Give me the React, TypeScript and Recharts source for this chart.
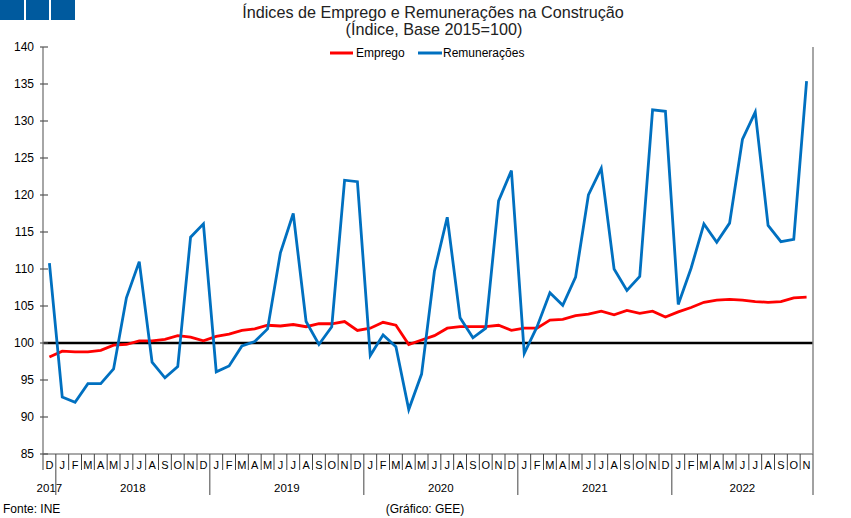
import React from 'react';
import { LineChart, Line, XAxis, YAxis, ReferenceLine } from 'recharts';

// dez 2017 .. nov 2022
const periods = [
  '2017-12',
  '2018-01', '2018-02', '2018-03', '2018-04', '2018-05', '2018-06', '2018-07', '2018-08', '2018-09', '2018-10', '2018-11', '2018-12',
  '2019-01', '2019-02', '2019-03', '2019-04', '2019-05', '2019-06', '2019-07', '2019-08', '2019-09', '2019-10', '2019-11', '2019-12',
  '2020-01', '2020-02', '2020-03', '2020-04', '2020-05', '2020-06', '2020-07', '2020-08', '2020-09', '2020-10', '2020-11', '2020-12',
  '2021-01', '2021-02', '2021-03', '2021-04', '2021-05', '2021-06', '2021-07', '2021-08', '2021-09', '2021-10', '2021-11', '2021-12',
  '2022-01', '2022-02', '2022-03', '2022-04', '2022-05', '2022-06', '2022-07', '2022-08', '2022-09', '2022-10', '2022-11',
];

const emprego = [
  98.1,
  98.9, 98.8, 98.8, 99.0, 99.7, 99.8, 100.3, 100.3, 100.5, 101.0, 100.8, 100.3,
  100.9, 101.2, 101.7, 101.9, 102.4, 102.3, 102.5, 102.2, 102.6, 102.6, 102.9, 101.7,
  102.0, 102.8, 102.4, 99.8, 100.4, 101.0, 102.0, 102.2, 102.2, 102.2, 102.4, 101.7,
  102.0, 102.0, 103.1, 103.2, 103.7, 103.9, 104.3, 103.8, 104.4, 104.0, 104.3, 103.5,
  104.2, 104.8, 105.5, 105.8, 105.9, 105.8, 105.6, 105.5, 105.6, 106.1, 106.2,
];

const remuneracoes = [
  110.8,
  92.7, 92.0, 94.5, 94.5, 96.5, 106.1, 111.0, 97.4, 95.3, 96.8, 114.3, 116.1,
  96.1, 96.9, 99.6, 100.2, 101.9, 112.2, 117.5, 102.9, 99.8, 102.2, 122.0, 121.8,
  98.3, 101.1, 99.5, 91.0, 95.8, 109.7, 117.0, 103.4, 100.7, 102.0, 119.2, 123.3,
  98.6, 102.2, 106.8, 105.1, 108.9, 120.0, 123.6, 110.0, 107.1, 109.0, 131.5, 131.3,
  105.2, 110.1, 116.1, 113.6, 116.2, 127.5, 131.2, 115.9, 113.7, 114.0, 135.4,
];

const yTicks = [85, 90, 95, 100, 105, 110, 115, 120, 125, 130, 135, 140];
const monthLetters = ['J', 'F', 'M', 'A', 'M', 'J', 'J', 'A', 'S', 'O', 'N', 'D'];

const data = periods.map((p, i) => ({
  period: p,
  emprego: emprego[i],
  remuneracoes: remuneracoes[i],
}));

const FONT = '"Liberation Sans", Arial, sans-serif';

function MonthTick(props: any) {
  const { x, y, index, payload, width } = props;
  const n = periods.length;
  const bw = (width || 770) / n;
  const [yr, mm] = String(payload.value).split('-');
  const month = Number(mm);
  const left = x - bw / 2;

  let first = -1;
  let last = -1;
  periods.forEach((p, i) => {
    if (p.startsWith(yr)) {
      if (first < 0) first = i;
      last = i;
    }
  });

  return (
    <g>
      <line x1={left} x2={left} y1={y} y2={month === 1 ? y + 41 : y + 16} stroke="#444" strokeWidth={1} />
      {index === n - 1 && (
        <line x1={x + bw / 2} x2={x + bw / 2} y1={y} y2={y + 41} stroke="#444" strokeWidth={1} />
      )}
      <text x={x} y={y + 15} textAnchor="middle" fontSize={11} fill="#000" fontFamily={FONT}>
        {monthLetters[month - 1]}
      </text>
      {index === first && (
        <text x={x + ((first + last) / 2 - index) * bw} y={y + 38} textAnchor="middle" fontSize={11.5} fill="#000" fontFamily={FONT}>
          {yr}
        </text>
      )}
    </g>
  );
}

function LeftTick(props: any) {
  const { x, y, payload } = props;
  return (
    <g>
      <line x1={x - 3} x2={x + 5} y1={y} y2={y} stroke="#555" strokeWidth={1.2} />
      <text x={x - 9} y={y + 4} textAnchor="end" fontSize={12} fill="#000" fontFamily={FONT}>
        {payload.value}
      </text>
    </g>
  );
}

function RightTick(props: any) {
  const { x, y, payload } = props;
  return (
    <g>
      <line x1={x - 4} x2={x + 4} y1={y} y2={y} stroke="#555" strokeWidth={1.2} />
      <text x={x + 10} y={y + 4} textAnchor="start" fontSize={12} fill="#000" fontFamily={FONT}>
        {payload.value}
      </text>
    </g>
  );
}

export default function App() {
  return (
    <div style={{ position: 'fixed', left: 0, top: 0, width: 851, height: 518, background: '#fff', fontFamily: FONT }}>
      <LineChart width={851} height={518} data={data} margin={{ top: 47, right: 0, bottom: 0, left: 0 }}>
        <XAxis
          dataKey="period"
          scale="band"
          interval={0}
          height={64}
          tickSize={0}
          tickMargin={0}
          tickLine={false}
          axisLine={{ stroke: '#555', strokeWidth: 1.2 }}
          tick={<MonthTick />}
        />
        <YAxis
          yAxisId="l"
          domain={[85, 140]}
          ticks={yTicks}
          interval={0}
          width={43}
          tickSize={0}
          tickMargin={0}
          tickLine={false}
          axisLine={{ stroke: '#888', strokeWidth: 1.5 }}
          tick={<LeftTick />}
        />
        <YAxis
          yAxisId="r"
          orientation="right"
          domain={[85, 140]}
          ticks={yTicks}
          interval={0}
          width={38}
          tickSize={0}
          tickMargin={0}
          tickLine={false}
          axisLine={{ stroke: '#888', strokeWidth: 1.5 }}
          tick={<RightTick />}
        />
        <ReferenceLine yAxisId="l" y={100} stroke="#000" strokeWidth={2.6} />
        <Line
          yAxisId="l"
          type="linear"
          dataKey="emprego"
          name="Emprego"
          stroke="#FF0000"
          strokeWidth={2.8}
          dot={false}
          isAnimationActive={false}
        />
        <Line
          yAxisId="l"
          type="linear"
          dataKey="remuneracoes"
          name="Remunerações"
          stroke="#0070C0"
          strokeWidth={2.8}
          dot={false}
          isAnimationActive={false}
        />
      </LineChart>
      <svg width={851} height={518} style={{ position: 'absolute', left: 0, top: 0, pointerEvents: 'none' }}>
        <rect x={0} y={0} width={24} height={20} fill="#005A9E" />
        <rect x={26} y={0} width={23} height={20} fill="#005A9E" />
        <rect x={51} y={0} width={24} height={20} fill="#005A9E" />
        <text x={433} y={18} textAnchor="middle" fontSize={16.2} fill="#222" fontFamily={FONT}>
          Índices de Emprego e Remunerações na Construção
        </text>
        <text x={434} y={35} textAnchor="middle" fontSize={16.2} fill="#222" fontFamily={FONT}>
          (Índice, Base 2015=100)
        </text>
        <line x1={330} x2={353} y1={53} y2={53} stroke="#FF0000" strokeWidth={3} />
        <text x={356} y={57} fontSize={12} fill="#000" fontFamily={FONT}>Emprego</text>
        <line x1={418} x2={442} y1={53} y2={53} stroke="#0070C0" strokeWidth={3} />
        <text x={443} y={57} fontSize={12} fill="#000" fontFamily={FONT}>Remunerações</text>
        <text x={3} y={513} fontSize={12} fill="#000" fontFamily={FONT}>Fonte: INE</text>
        <text x={425} y={513} textAnchor="middle" fontSize={12} fill="#000" fontFamily={FONT}>(Gráfico: GEE)</text>
      </svg>
    </div>
  );
}
